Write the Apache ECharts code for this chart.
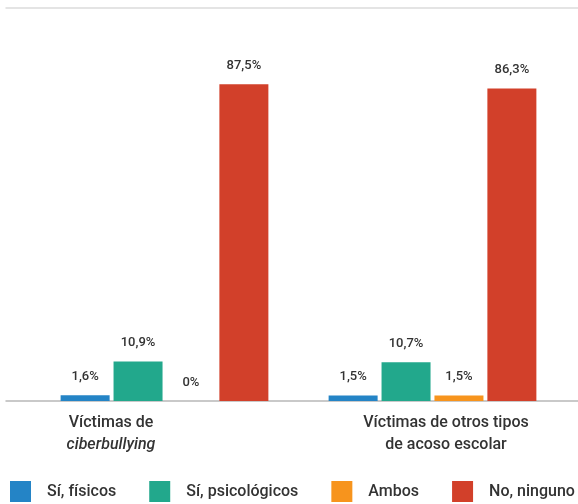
<!DOCTYPE html>
<html>
<head>
<meta charset="utf-8">
<script src="https://cdn.jsdelivr.net/npm/echarts@6/dist/echarts.min.js"></script>
<style>
html,body{margin:0;padding:0;background:#fff;}
#chart{width:578px;height:504px;}
</style>
</head>
<body>
<div id="chart"></div>
<script>
const categories = ['Víctimas de\nciberbullying', 'Víctimas de otros tipos\nde acoso escolar'];
const seriesNames = ['Sí, físicos', 'Sí, psicológicos', 'Ambos', 'No, ninguno'];
const fisicos = [1.6, 1.5];
const psicologicos = [10.9, 10.7];
const ambos = [0, 1.5];
const ninguno = [87.5, 86.3];
const seriesData = [fisicos, psicologicos, ambos, ninguno];
const colors = ['#2484c6', '#22a88c', '#f7941d', '#d2402a'];

const FONT = 'Roboto';
const chart = echarts.init(document.getElementById('chart'), null, {renderer: 'canvas'});

function fmtPct(v) {
  return String(v).replace('.', ',') + '%';
}

const base = {fontFamily: FONT, fontSize: 16, fontWeight: 500, color: '#333', lineHeight: 22};
const catRich = {
  a: Object.assign({}, base, {padding: [0, 107, 0, 0]}),
  ai: Object.assign({}, base, {fontStyle: 'italic', padding: [0, 107, 0, 0]}),
  b: Object.assign({}, base, {padding: [0, 0, 0, 27]})
};

const option = {
  backgroundColor: '#fff',
  animation: false,
  color: colors,
  legend: {
    data: seriesNames,
    left: 10,
    top: 481,
    padding: 0,
    itemWidth: 21,
    itemHeight: 21,
    itemGap: 33,
    icon: 'rect',
    textStyle: {fontFamily: FONT, fontSize: 16, fontWeight: 500, color: '#333', padding: [0, 0, 0, 11]}
  },
  grid: [
    {left: 30.5, right: 11.5, top: 39, bottom: 103, containLabel: false},
    {left: 6, right: 0, top: 8, bottom: 103, containLabel: false}
  ],
  xAxis: [
    {
      type: 'category',
      data: categories,
      gridIndex: 0,
      axisLine: {show: false},
      axisTick: {show: false},
      axisLabel: {
        margin: 11,
        interval: 0,
        formatter: function (value, idx) {
          const lines = value.split('\n');
          if (idx === 0) {
            return '{a|' + lines[0] + '}\n{ai|' + lines[1] + '}';
          }
          return lines.map(l => '{b|' + l + '}').join('\n');
        },
        rich: catRich
      }
    },
    {
      type: 'category',
      data: ['x'],
      gridIndex: 1,
      position: 'bottom',
      axisLine: {show: true, lineStyle: {color: '#b8b8b8', width: 1.5}},
      axisTick: {show: false},
      axisLabel: {show: false}
    },
    {
      type: 'category',
      data: ['x'],
      gridIndex: 1,
      position: 'top',
      axisLine: {show: true, lineStyle: {color: '#dcdcdc', width: 1.5}},
      axisTick: {show: false},
      axisLabel: {show: false}
    }
  ],
  yAxis: [
    {type: 'value', gridIndex: 0, min: 0, max: 100, show: false, splitLine: {show: false}},
    {type: 'value', gridIndex: 1, min: 0, max: 1, show: false, splitLine: {show: false}}
  ],
  series: seriesNames.map((name, i) => ({
    name: name,
    type: 'bar',
    xAxisIndex: 0,
    yAxisIndex: 0,
    data: seriesData[i],
    barWidth: 49,
    barGap: '8%',
    itemStyle: {color: colors[i]},
    label: {
      show: true,
      position: 'top',
      distance: 12,
      fontFamily: FONT,
      fontSize: 13,
      fontWeight: 500,
      color: '#333',
      formatter: p => fmtPct(p.value)
    }
  }))
};
chart.setOption(option);
</script>
</body>
</html>
